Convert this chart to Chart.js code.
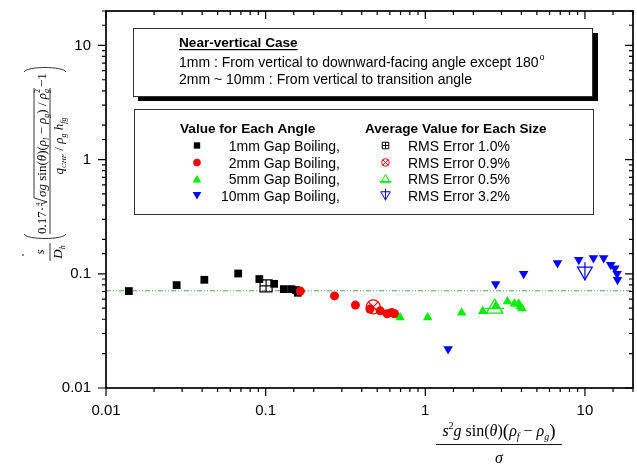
<!DOCTYPE html>
<html>
<head>
<meta charset="utf-8">
<script src="https://cdn.jsdelivr.net/npm/chart.js@4.4.1/dist/chart.umd.min.js"></script>
<style>
  html, body { margin: 0; padding: 0; background: #fff; }
  #c { display: block; }
</style>
</head>
<body>
<canvas id="c" width="637" height="465"></canvas>
<script>
// ===== data =====
const gap1X = [0.0139, 0.0277, 0.0413, 0.0673, 0.0913, 0.113, 0.130, 0.145, 0.155, 0.159];
const gap1Y = [0.0706, 0.0796, 0.0886, 0.1006, 0.0899, 0.0817, 0.0734, 0.0734, 0.0720, 0.0682];
const gap2X = [0.165, 0.270, 0.365, 0.450, 0.522, 0.577, 0.617, 0.642];
const gap2Y = [0.0706, 0.0640, 0.0532, 0.0491, 0.0474, 0.0447, 0.0458, 0.0447];
const gap5X = [0.695, 1.035, 1.69, 2.29, 2.76, 3.27, 3.61, 3.84, 3.94, 4.03];
const gap5Y = [0.0414, 0.0414, 0.0455, 0.0471, 0.0521, 0.0573, 0.0546, 0.0546, 0.0518, 0.0497];
const gap10X = [1.39, 2.76, 4.13, 6.73, 9.15, 11.3, 13.1, 14.5, 15.4, 15.9, 16.0];
const gap10Y = [0.0219, 0.0813, 0.100, 0.124, 0.1327, 0.1373, 0.1373, 0.120, 0.112, 0.100, 0.0886];
const avgX = [0.1006, 0.472, 2.72, 10.0];   // 1mm, 2mm, 5mm, 10mm
const avgY = [0.0785, 0.0514, 0.0497, 0.105];
const refY = 0.071;
const xTickLabels = ['0.01', '0.1', '1', '10'];
const yTickLabels = ['0.01', '0.1', '1', '10'];
const angleLabels = ['1mm Gap Boiling,', '2mm Gap Boiling,', '5mm Gap Boiling,', '10mm Gap Boiling,'];
const rmsLabels = ['RMS Error 1.0%', 'RMS Error 0.9%', 'RMS Error 0.5%', 'RMS Error 3.2%'];

const SANS = '"Liberation Sans", Arial, sans-serif';
const SERIF = '"Liberation Serif", "Times New Roman", serif';
const GREEN = '#00ee00';
const colors = ['#000000', '#ff0000', GREEN, '#0000ff'];

const pts = (xs, ys) => xs.map((x, i) => ({ x, y: ys[i] }));
const isDecade = v => { const l = Math.log10(v); return Math.abs(l - Math.round(l)) < 1e-6; };
const tickText = (labels, v) => labels.find(l => Math.abs(parseFloat(l) / v - 1) < 1e-6) || '';

function mark(ctx, style, x, y, r, color, filled, rot) {
  ctx.save();
  ctx.strokeStyle = color;
  ctx.fillStyle = filled ? color : 'rgba(0,0,0,0)';
  ctx.lineWidth = 1;
  Chart.helpers.drawPoint(ctx, { pointStyle: style, radius: r, rotation: rot || 0, borderWidth: filled ? 0 : 1 }, x, y);
  ctx.restore();
}

// draws a list of text pieces one after another, returns end x
function run(ctx, segs, x, y) {
  let cx = x;
  segs.forEach(s => {
    ctx.font = (s.i ? 'italic ' : '') + (s.size || 13) + 'px ' + SERIF;
    ctx.fillText(s.t, cx, y + (s.dy || 0));
    if (!s.stay) cx += ctx.measureText(s.t).width;
  });
  return cx;
}
function runWidth(ctx, segs) {
  let w = 0;
  segs.forEach(s => {
    ctx.font = (s.i ? 'italic ' : '') + (s.size || 13) + 'px ' + SERIF;
    if (!s.stay) w += ctx.measureText(s.t).width;
  });
  return w;
}

function drawYTitle(ctx) {
  ctx.save();
  ctx.translate(0, 270);
  ctx.rotate(-Math.PI / 2);
  ctx.fillStyle = '#000';
  ctx.strokeStyle = '#000';
  ctx.lineWidth = 0.8;
  ctx.textBaseline = 'alphabetic';
  // stray dot
  ctx.beginPath(); ctx.arc(15, 23, 0.8, 0, Math.PI * 2); ctx.fill();
  // s / D_h
  const sW = runWidth(ctx, [{ t: 's', i: true }]);
  run(ctx, [{ t: 's', i: true }], 18 - sW / 2, 44);
  ctx.beginPath(); ctx.moveTo(9, 50); ctx.lineTo(27, 50); ctx.stroke();
  const dSeg = [{ t: 'D', i: true }, { t: 'h', i: true, size: 8, dy: 3 }];
  run(ctx, dSeg, 18 - runWidth(ctx, dSeg) / 2, 62);
  // big parentheses
  ctx.beginPath();
  ctx.moveTo(36, 24); ctx.bezierCurveTo(30, 27, 30, 63, 36, 66);
  ctx.moveTo(198, 24); ctx.bezierCurveTo(204, 27, 204, 63, 198, 66);
  ctx.stroke();
  // numerator
  let u = run(ctx, [{ t: '0.17·' }], 36, 46);
  run(ctx, [{ t: '4', size: 7 }], u + 1, 40);
  const r0 = u + 1;
  ctx.beginPath();
  ctx.moveTo(r0, 42); ctx.lineTo(r0 + 2, 41); ctx.lineTo(r0 + 4, 47); ctx.lineTo(r0 + 8, 34);
  const body = [
    { t: 'σg', i: true }, { t: ' sin(' }, { t: 'θ', i: true }, { t: ')(' }, { t: 'ρ', i: true },
    { t: 'l', i: true, size: 8, dy: 3 }, { t: ' − ' }, { t: 'ρ', i: true }, { t: 'g', i: true, size: 8, dy: 3 },
    { t: ') / ' }, { t: 'ρ', i: true }, { t: 'g', i: true, size: 8, dy: 3, stay: true }, { t: '2', size: 8, dy: -6 }
  ];
  const uEnd = run(ctx, body, r0 + 9, 46);
  ctx.lineTo(uEnd + 1, 34);
  ctx.stroke();
  ctx.beginPath(); ctx.moveTo(36, 50); ctx.lineTo(uEnd + 1, 50); ctx.stroke();
  // denominator
  const den = [{ t: 'q', i: true }, { t: 'CHF', i: true, size: 7, dy: 3 }, { t: ' / ' }, { t: 'ρ', i: true },
    { t: 'g', i: true, size: 8, dy: 3 }, { t: ' h', i: true }, { t: 'fg', i: true, size: 8, dy: 3 }];
  run(ctx, den, 124 - runWidth(ctx, den) / 2, 63);
  // -1
  run(ctx, [{ t: '−1' }], uEnd + 2, 46);
  ctx.restore();
}

function drawXTitle(ctx) {
  ctx.save();
  ctx.fillStyle = '#000';
  ctx.strokeStyle = '#000';
  ctx.lineWidth = 0.9;
  const num = [
    { t: 's', i: true, size: 16 }, { t: '2', size: 10, dy: -7 }, { t: 'g', i: true, size: 16 }, { t: ' sin(', size: 16 },
    { t: 'θ', i: true, size: 16 }, { t: ')', size: 16 }, { t: '(', size: 19, dy: 1 }, { t: 'ρ', i: true, size: 16 },
    { t: 'f', i: true, size: 10, dy: 4 }, { t: ' − ', size: 16 }, { t: 'ρ', i: true, size: 16 },
    { t: 'g', i: true, size: 10, dy: 4 }, { t: ')', size: 19, dy: 1 }
  ];
  const w = runWidth(ctx, num);
  run(ctx, num, 499 - w / 2, 436);
  ctx.beginPath(); ctx.moveTo(436, 444.5); ctx.lineTo(562, 444.5); ctx.stroke();
  const sig = [{ t: 'σ', i: true, size: 16 }];
  run(ctx, sig, 499 - runWidth(ctx, sig) / 2, 463);
  ctx.restore();
}

function drawNoteBox(ctx) {
  ctx.save();
  ctx.fillStyle = '#000';
  ctx.fillRect(138, 33, 460, 68);
  ctx.fillStyle = '#fff';
  ctx.fillRect(133, 28, 459, 68);
  ctx.strokeStyle = '#333';
  ctx.lineWidth = 1;
  ctx.strokeRect(133.5, 28.5, 459, 68);
  ctx.fillStyle = '#000';
  ctx.font = 'bold 13.6px ' + SANS;
  ctx.fillText('Near-vertical Case', 179, 47);
  const hw = ctx.measureText('Near-vertical Case').width;
  ctx.fillRect(179, 49, hw, 1.2);
  ctx.font = '14px ' + SANS;
  const l2 = '1mm : From vertical to downward-facing angle except 180';
  ctx.fillText(l2, 179, 67);
  const w2 = ctx.measureText(l2).width;
  ctx.font = '9px ' + SANS;
  ctx.fillText('o', 180 + w2, 60);
  ctx.font = '14px ' + SANS;
  ctx.fillText('2mm ~ 10mm : From vertical to transition angle', 179, 84);
  ctx.restore();
}

function drawLegendBox(ctx) {
  ctx.save();
  ctx.fillStyle = '#fff';
  ctx.fillRect(134, 109, 460, 106);
  ctx.strokeStyle = '#333';
  ctx.lineWidth = 1;
  ctx.strokeRect(134.5, 109.5, 459, 105);
  ctx.fillStyle = '#000';
  ctx.font = 'bold 13.6px ' + SANS;
  ctx.fillText('Value for Each Angle', 180, 133);
  ctx.fillText('Average Value for Each Size', 365, 133);
  const rows = [145.5, 162.5, 179, 195.5];
  ctx.font = '14px ' + SANS;
  rows.forEach((yc, i) => {
    ctx.fillStyle = '#000';
    ctx.textAlign = 'right';
    ctx.fillText(angleLabels[i], 340, yc + 5);
    ctx.textAlign = 'left';
    ctx.fillText(rmsLabels[i], 408, yc + 5);
  });
  // filled markers
  mark(ctx, 'rect', 197, rows[0], 4.5, colors[0], true);
  mark(ctx, 'circle', 197, rows[1], 3.8, colors[1], true);
  mark(ctx, 'triangle', 197, rows[2] + 1, 5, colors[2], true);
  mark(ctx, 'triangle', 197, rows[3] - 1, 5, colors[3], true, 180);
  // average markers
  mark(ctx, 'rect', 385.5, rows[0], 4.6, colors[0], false);
  mark(ctx, 'cross', 385.5, rows[0], 3.2, colors[0], false);
  mark(ctx, 'circle', 385.5, rows[1], 3.8, colors[1], false);
  mark(ctx, 'crossRot', 385.5, rows[1], 3.8, colors[1], false);
  mark(ctx, 'triangle', 385.5, rows[2] + 1, 5.5, colors[2], false);
  mark(ctx, 'line', 385.5, rows[2] + 2.5, 6, colors[2], false);
  mark(ctx, 'triangle', 385.5, rows[3] - 1, 5.5, colors[3], false, 180);
  mark(ctx, 'line', 385.5, rows[3] - 1, 6, colors[3], false, 90);
  ctx.restore();
}

const axisPlugin = {
  id: 'axisTicks',
  afterDatasetsDraw(chart) {
    const { ctx, chartArea: a, scales: { x, y } } = chart;
    ctx.save();
    ctx.strokeStyle = '#000';
    ctx.lineWidth = 1.2;
    ctx.beginPath();
    x.ticks.forEach(t => {
      const px = x.getPixelForValue(t.value);
      const len = isDecade(t.value) ? 8 : 4;
      ctx.moveTo(px, a.bottom); ctx.lineTo(px, a.bottom + len);
      ctx.moveTo(px, a.top); ctx.lineTo(px, a.top + len);
    });
    y.ticks.forEach(t => {
      const py = y.getPixelForValue(t.value);
      const len = isDecade(t.value) ? 8 : 4;
      ctx.moveTo(a.left, py); ctx.lineTo(a.left - len, py);
      ctx.moveTo(a.right, py); ctx.lineTo(a.right - len, py);
    });
    ctx.stroke();
    ctx.lineWidth = 1.7;
    ctx.strokeRect(a.left, a.top, a.right - a.left, a.bottom - a.top);
    ctx.restore();
  },
  afterDraw(chart) {
    const ctx = chart.ctx;
    drawNoteBox(ctx);
    drawLegendBox(ctx);
    drawYTitle(ctx);
    drawXTitle(ctx);
  }
};

const pointSet = (xs, ys, style, color, r, rot, order) => ({
  data: pts(xs, ys), showLine: false, pointStyle: style, pointRadius: r, pointRotation: rot,
  pointBackgroundColor: color, pointBorderColor: color, pointBorderWidth: 0, order
});

new Chart(document.getElementById('c'), {
  type: 'scatter',
  data: {
    datasets: [
      { data: [{ x: 0.01, y: refY }, { x: 20, y: refY }], showLine: true, pointRadius: 0,
        borderColor: '#4aa84a', borderWidth: 1, borderDash: [5, 2, 1, 2, 1, 2], order: 9 },
      pointSet(gap1X, gap1Y, 'rect', colors[0], 5.5, 0, 5),
      pointSet(gap2X, gap2Y, 'circle', colors[1], 4.5, 0, 4),
      pointSet(gap5X, gap5Y, 'triangle', colors[2], 5.5, 0, 3),
      pointSet(gap10X, gap10Y, 'triangle', colors[3], 5.5, 180, 2),
      { data: pts(avgX, avgY), showLine: false, order: 1,
        pointStyle: ['rect', 'circle', 'triangle', 'triangle'], pointRotation: [0, 0, 0, 180],
        pointRadius: [8.5, 7, 9.5, 8.5], pointBorderColor: colors, pointBackgroundColor: 'rgba(255,255,255,0)',
        pointBorderWidth: 1.2 },
      { data: pts(avgX, avgY), showLine: false, order: 0,
        pointStyle: ['cross', 'crossRot', 'line', 'line'], pointRotation: [0, 0, 0, 90],
        pointRadius: [6, 7, 9.5, 9], pointBorderColor: colors, pointBorderWidth: 1.2 }
    ]
  },
  options: {
    responsive: false,
    animation: false,
    layout: { autoPadding: false, padding: { top: 11, right: 4, left: 0, bottom: 0 } },
    plugins: { legend: { display: false }, tooltip: { enabled: false } },
    scales: {
      x: {
        type: 'logarithmic', min: 0.01, max: 20,
        grid: { display: false, drawTicks: false }, border: { display: false },
        ticks: { autoSkip: false, maxRotation: 0, padding: 14, color: '#000', font: { family: SANS, size: 15 },
          callback: v => tickText(xTickLabels, v) },
        afterFit: s => { s.height = 77; s.paddingLeft = 0; s.paddingRight = 0; }
      },
      y: {
        type: 'logarithmic', min: 0.01, max: 20,
        grid: { display: false, drawTicks: false }, border: { display: false },
        ticks: { autoSkip: false, padding: 15, color: '#000', font: { family: SANS, size: 15 },
          callback: v => tickText(yTickLabels, v) },
        afterFit: s => { s.width = 106; s.paddingTop = 0; s.paddingBottom = 0; }
      }
    }
  },
  plugins: [axisPlugin]
});
</script>
</body>
</html>
